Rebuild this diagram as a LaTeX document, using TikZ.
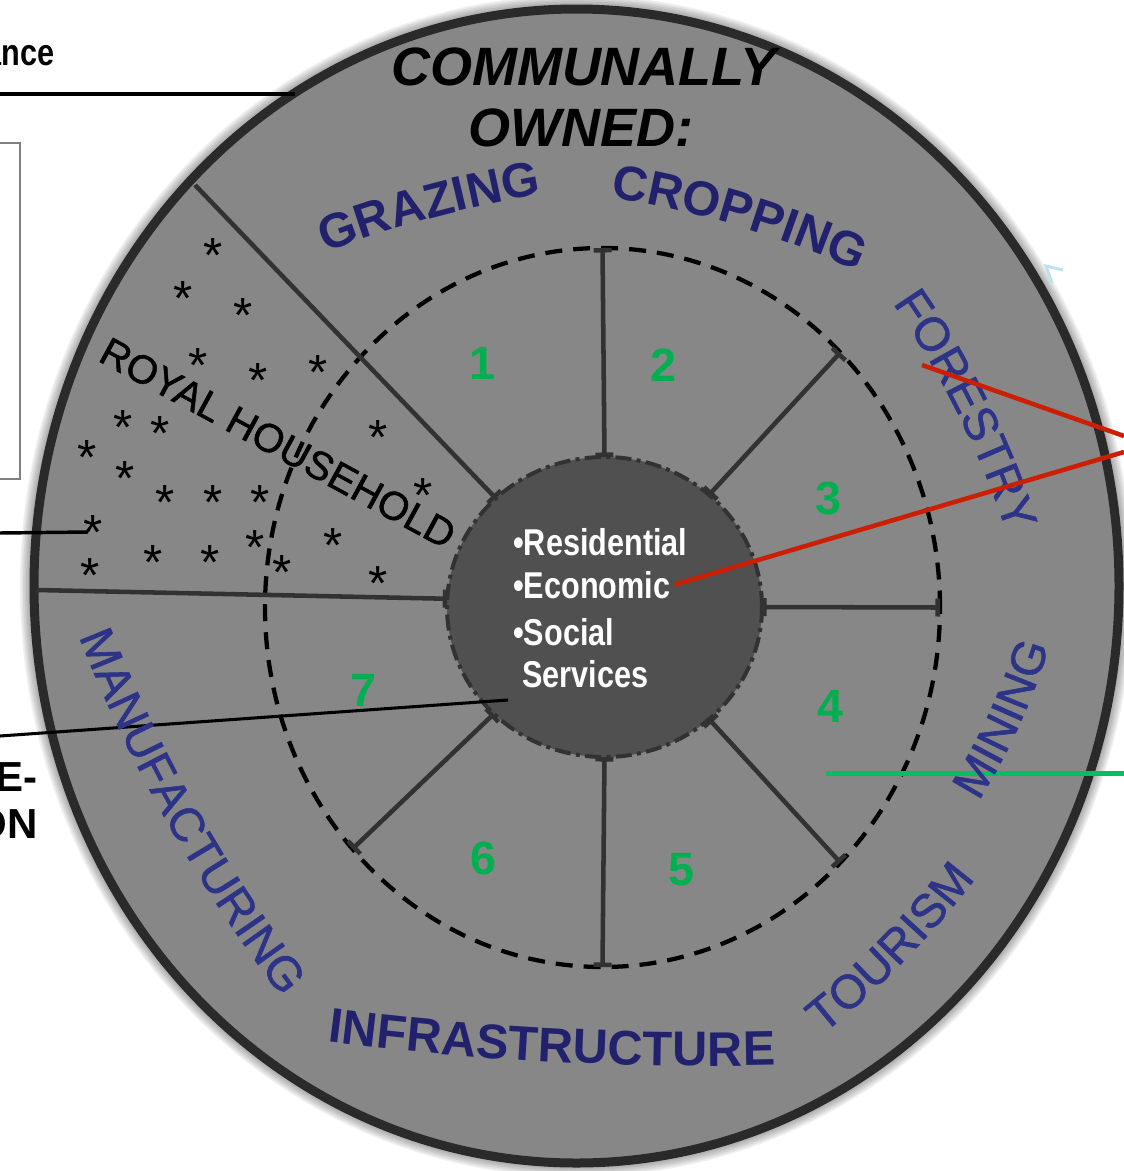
\documentclass[tikz,border=0pt]{standalone}
\usepackage{fontspec}
\setmainfont{Liberation Sans}
\newfontfamily\narrowfont[FakeStretch=0.82]{Liberation Sans}
\newfontfamily\medfont[FakeBold=1.2]{Liberation Sans}
\usetikzlibrary{shapes.geometric,arrows.meta,decorations.text}

\definecolor{discgray}{RGB}{135,135,135}
\definecolor{rimgray}{RGB}{42,42,42}
\definecolor{hubgray}{RGB}{80,80,80}
\definecolor{spokegray}{RGB}{50,50,50}
\definecolor{navyA}{RGB}{33,33,110}
\definecolor{navyB}{RGB}{45,52,135}
\definecolor{numgreen}{RGB}{0,176,80}
\definecolor{linegreen}{RGB}{0,190,100}
\definecolor{linered}{RGB}{204,30,0}
\definecolor{markblue}{RGB}{190,225,235}

\newcommand{\bluebold}{\color{navyA}\bfseries\fontsize{36.5pt}{36.5pt}\selectfont}
\newcommand{\bluereg}{\color{navyB}\medfont\fontsize{35.5pt}{35.5pt}\selectfont}

\newcommand{\bowup}[5]{%
  \pgfmathsetmacro{\bowang}{300/#4*57.2958}%
  \pgfmathsetmacro{\bowa}{90+\bowang}%
  \pgfmathsetmacro{\bowb}{90-\bowang}%
  \pgfmathsetmacro{\bowr}{#4*0.75}%
  \begin{scope}[shift={(#1)}, rotate=#2]
    \path[decorate, decoration={text along path, text align=center, text={|#5|#3}}]
      (0,-#4) ++(\bowa:\bowr pt) arc[start angle=\bowa, end angle=\bowb, radius=\bowr pt];
  \end{scope}}
\newcommand{\bowdown}[5]{%
  \pgfmathsetmacro{\bowang}{300/#4*57.2958}%
  \pgfmathsetmacro{\bowa}{270-\bowang}%
  \pgfmathsetmacro{\bowb}{270+\bowang}%
  \pgfmathsetmacro{\bowr}{#4*0.75}%
  \begin{scope}[shift={(#1)}, rotate=#2]
    \path[decorate, decoration={text along path, text align=center, text={|#5|#3}}]
      (0,#4) ++(\bowa:\bowr pt) arc[start angle=\bowa, end angle=\bowb, radius=\bowr pt];
  \end{scope}}

\begin{document}
\begin{tikzpicture}[x=0.75pt, y=0.75pt,
  disc/.style={ellipse, draw=rimgray, fill=discgray, line width=6.75pt, inner sep=0pt, outer sep=0pt, minimum width=813.75pt, minimum height=865.5pt},
  ring/.style={ellipse, draw=black, dash pattern=on 12.75pt off 8.25pt, line width=3.2pt, inner sep=0pt, outer sep=0pt, minimum width=506.25pt, minimum height=539.25pt},
  hub/.style={ellipse, draw=spokegray, fill=hubgray, dash pattern=on 12pt off 4pt on 3pt off 4pt, line width=3pt, inner sep=0pt, outer sep=0pt, minimum width=236.25pt, minimum height=225pt},
  spoke/.style={draw=spokegray, line width=3.4pt},
  ticks/.style={arrows={Bar[width=13.5pt]-Bar[width=13.5pt]}},
  tickin/.style={arrows={Bar[width=13.5pt]-}},
  num/.style={text=numgreen, font=\bfseries\fontsize{35pt}{35pt}\selectfont, inner sep=0pt},
  hubtxt/.style={text=white, font=\narrowfont\bfseries\fontsize{28pt}{33pt}\selectfont, inner sep=0pt, anchor=base west},
  astx/.style={font=\fontsize{37pt}{37pt}\selectfont, inner sep=0pt, anchor=base, yshift=-20.5pt},
  conn/.style={draw=black},
  redline/.style={draw=linered, line width=3.4pt},
  greenline/.style={draw=linegreen, line width=3.75pt},
  sidetxt/.style={font=\bfseries\fontsize{31.5pt}{31.5pt}\selectfont, inner sep=0pt, anchor=base east}]

\useasboundingbox (0,0) rectangle (1124,-1171);
\clip (0,0) rectangle (1124,-1171);

\foreach \k in {1,...,6}
  \fill[black, opacity=0.06] (576.5,-586) ellipse [x radius=410.25pt+1.2pt*\k, y radius=436pt+1.2pt*\k];
\node[disc] (disc) at (576.5,-586) {};
\node[ring] (ring) at (602.5,-607.5) {};
\node[hub] (hub) at (604.5,-607) {};

\foreach \a in {90,47,0,-47,-90,-136}
  \draw[spoke, ticks] (hub.\a) -- (ring.\a);
\coordinate (wEnd) at (37,-590);
\coordinate (nwEnd) at (195,-185);
\draw[spoke, tickin] (hub.177) -- (wEnd);
\draw[spoke, tickin] (hub.135) -- (nwEnd);

\node[hubtxt] (res) at (513,-555) {•Residential};
\node[hubtxt] (eco) at (513,-598) {•Economic};
\node[hubtxt] (soc) at (513,-645) {•Social};
\node[hubtxt] (serv) at (522,-687) {Services};

\node[draw=gray, fill=white, line width=1.1pt, minimum width=30pt, minimum height=252pt, inner sep=0pt] (box) at (0,-311) {};
\node[anchor=base east, font=\narrowfont\bfseries\fontsize{28pt}{28pt}\selectfont, inner sep=0pt] (ance) at (55,-65) {ance};
\node[sidetxt] (eline) at (38,-791) {E-};
\node[sidetxt] (online) at (38,-838) {ON};

\coordinate (topA) at (0,-94);
\coordinate (topB) at (295,-94);
\coordinate (midA) at (0,-533);
\coordinate (midB) at (88,-532);
\coordinate (lowA) at (0,-736);
\coordinate (lowB) at (508,-700);
\draw[conn, line width=3.3pt] (topA) -- (topB);
\draw[conn, line width=2.6pt] (midA) -- (midB);
\draw[conn, line width=2.3pt] (lowA) -- (lowB);

\coordinate (greenA) at (826,-773);
\coordinate (greenB) at (1124,-773);
\draw[greenline] (greenA) -- (greenB);

\node[num] (n1) at (482,-363) {1};
\node[num] (n2) at (663,-365) {2};
\node[num] (n3) at (828,-498) {3};
\node[num] (n4) at (830,-706) {4};
\node[num] (n5) at (681,-870) {5};
\node[num] (n6) at (483,-858) {6};
\node[num] (n7) at (363,-690) {7};

\node[anchor=base, font=\bfseries\itshape\fontsize{40.5pt}{40.5pt}\selectfont, inner sep=0pt] (comm) at (584,-85) {COMMUNALLY};
\node[anchor=base, font=\bfseries\itshape\fontsize{40.5pt}{40.5pt}\selectfont, inner sep=0pt] (owned) at (581,-146) {OWNED:};

\bowup{432,-218}{15.1}{GRAZING}{1100}{\bluebold}
\bowup{737,-226}{-16.6}{CROPPING}{960}{\bluebold}
\bowup{958,-414}{-63.6}{FORESTRY}{900}{\bluereg}
\bowdown{1019,-726}{65.5}{MINING}{650}{\bluereg}
\bowdown{904,-961}{45.6}{TOURISM}{900}{\bluereg}
\bowdown{551,-1062}{-3.0}{INFRASTRUCTURE}{3000}{\bluebold}
\bowdown{168,-824}{-60.6}{MANUFACTURING}{1500}{\bluereg}

\node[rotate=-28.5, font=\medfont\fontsize{30pt}{30pt}\selectfont, inner sep=0pt] (royal) at (278,-443) {ROYAL HOUSEHOLD};

\foreach \x/\y [count=\i] in {213/245,183/288,243/305,198/355,258/370,318/362,123/417,160/423,378/427,87/447,125/468,165/492,213/492,260/492,423/485,93/522,153/552,210/552,255/537,282/562,333/535,378/573,90/565}
  \node[astx] (ast\i) at (\x,-\y) {*};

\coordinate (forA) at (922,-365);
\coordinate (redA) at (1124,-436);
\coordinate (redB) at (1124,-452);
\draw[redline] (forA) -- (redA);
\draw[redline] ([xshift=3pt]eco.east) -- (redB);

\coordinate (markA) at (1063,-270);
\coordinate (markB) at (1046,-266);
\coordinate (markC) at (1052,-283);
\draw[markblue, line width=2.2pt] (markA) -- (markB) -- (markC);
\end{tikzpicture}
\end{document}
